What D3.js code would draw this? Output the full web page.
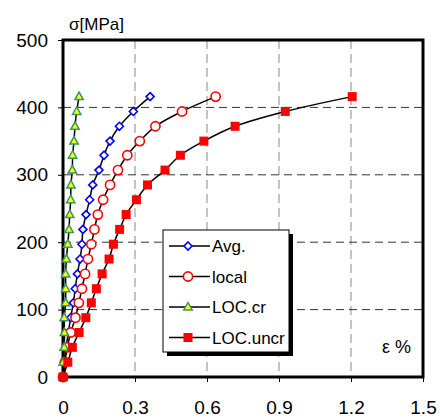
<!DOCTYPE html>
<html><head><meta charset="utf-8">
<script src="https://cdn.jsdelivr.net/npm/d3@7"></script>
<style>body{margin:0;background:#fff;} svg{display:block;font-family:"Liberation Sans",Arial,sans-serif;}</style>
</head><body>
<svg id="c" width="440" height="418"></svg>
<script>
const stress = [0,22,44,66,88,110,131,153,175,197,219,241,263,285,307,329,350,372,394,416];
const avgStrain = [0,0.006,0.013,0.022,0.032,0.043,0.051,0.060,0.071,0.079,0.083,0.096,0.111,0.124,0.150,0.171,0.196,0.235,0.293,0.363];
const localStrain = [0,0.008,0.018,0.032,0.052,0.066,0.079,0.092,0.104,0.118,0.131,0.145,0.167,0.196,0.229,0.268,0.320,0.385,0.496,0.636];
const locCrStrain = [0,0.001,0.005,0.006,0.005,0.011,0.011,0.011,0.014,0.020,0.025,0.028,0.032,0.033,0.039,0.040,0.046,0.050,0.057,0.067];
const locUncrStrain = [0,0.020,0.039,0.067,0.095,0.118,0.139,0.163,0.192,0.210,0.236,0.263,0.306,0.352,0.425,0.489,0.587,0.717,0.926,1.205];
const seriesNames = ["Avg.","local","LOC.cr","LOC.uncr"];
const xTicks = [0,0.3,0.6,0.9,1.2,1.5];
const yTicks = [0,100,200,300,400,500];

const svg = d3.select("#c");
const L=63,R=423,T=40,B=377;
const x = d3.scaleLinear().domain([0,1.5]).range([L,R]);
const y = d3.scaleLinear().domain([0,500]).range([B,T]);

// grid
svg.append("g").selectAll("line").data(xTicks.slice(1,-1)).join("line")
  .attr("x1",d=>x(d)).attr("x2",d=>x(d)).attr("y1",T).attr("y2",B)
  .attr("stroke","#8a8a8a").attr("stroke-width",1).attr("stroke-dasharray","9,5");
svg.append("g").selectAll("line").data(yTicks.slice(1,-1)).join("line")
  .attr("x1",L).attr("x2",R).attr("y1",d=>y(d)).attr("y2",d=>y(d))
  .attr("stroke","#333").attr("stroke-width",1).attr("stroke-dasharray","8,5");

// axes
const xAxis = svg.append("g").attr("transform",`translate(0,${B})`)
  .call(d3.axisBottom(x).tickValues(xTicks).tickSize(5).tickPadding(19).tickFormat(d=>d===0?"0":d3.format(".1f")(d)));
const yAxis = svg.append("g").attr("transform",`translate(${L},0)`)
  .call(d3.axisLeft(y).tickValues(yTicks).tickSize(5).tickPadding(10));
[xAxis,yAxis].forEach(a=>{
  a.select(".domain").remove();
  a.selectAll(".tick line").attr("stroke","#000").attr("stroke-width",1);
  a.selectAll(".tick text").attr("font-size",19).attr("fill","#000").attr("font-family","Liberation Sans, Arial, sans-serif");
});
xAxis.selectAll(".tick line").attr("y2",5);

// frame
svg.append("rect").attr("x",L).attr("y",T).attr("width",R-L).attr("height",B-T)
  .attr("fill","none").attr("stroke","#000").attr("stroke-width",3);

const data = [avgStrain, localStrain, locCrStrain, locUncrStrain].map(s=>s.map((v,i)=>[v,stress[i]]));
const line = d3.line().x(d=>x(d[0])).y(d=>y(d[1])).curve(d3.curveCatmullRom.alpha(0.5));

function marker(g, k){
  if(k===0){
    g.append("path").attr("d","M0,-4L4,0L0,4L-4,0Z").attr("fill","#fff").attr("stroke","#0000ff").attr("stroke-width",1.6);
  } else if(k===1){
    g.append("circle").attr("r",4.6).attr("fill","#fff").attr("stroke","#ff0000").attr("stroke-width",1.6);
  } else if(k===2){
    g.append("path").attr("d","M0,-4.5L4.2,3L-4.2,3Z").attr("fill","#ffff00").attr("stroke","#339966").attr("stroke-width",1.5);
  } else {
    g.append("rect").attr("x",-4.5).attr("y",-4.5).attr("width",9).attr("height",9).attr("fill","#ff0000");
  }
}

data.forEach((pts,k)=>{
  const g = svg.append("g");
  g.append("path").attr("d",line(pts)).attr("fill","none").attr("stroke","#000").attr("stroke-width",1.5);
  g.selectAll("g").data(pts).join("g").attr("transform",d=>`translate(${x(d[0])},${y(d[1])})`)
    .each(function(){ marker(d3.select(this),k); });
});

// legend
const lx=163, ly=230, lw=126, lh=122;
svg.append("rect").attr("x",lx+4).attr("y",ly+4).attr("width",lw).attr("height",lh).attr("fill","#000");
svg.append("rect").attr("x",lx).attr("y",ly).attr("width",lw).attr("height",lh).attr("fill","#fff").attr("stroke","#000").attr("stroke-width",1);
seriesNames.forEach((n,k)=>{
  const yy = ly+16+k*30.5;
  const g = svg.append("g");
  g.append("line").attr("x1",lx+6).attr("x2",lx+47).attr("y1",yy).attr("y2",yy).attr("stroke","#000").attr("stroke-width",1.5);
  const m = g.append("g").attr("transform",`translate(${lx+25},${yy})`);
  marker(m,k);
  g.append("text").attr("x",lx+49).attr("y",yy+6).attr("font-size",17).text(n);
});

// axis titles
svg.append("text").attr("x",69).attr("y",30).attr("font-size",17).text("σ[MPa]");
svg.append("text").attr("x",382).attr("y",353).attr("font-size",18).text("ε %");
</script>
</body></html>
